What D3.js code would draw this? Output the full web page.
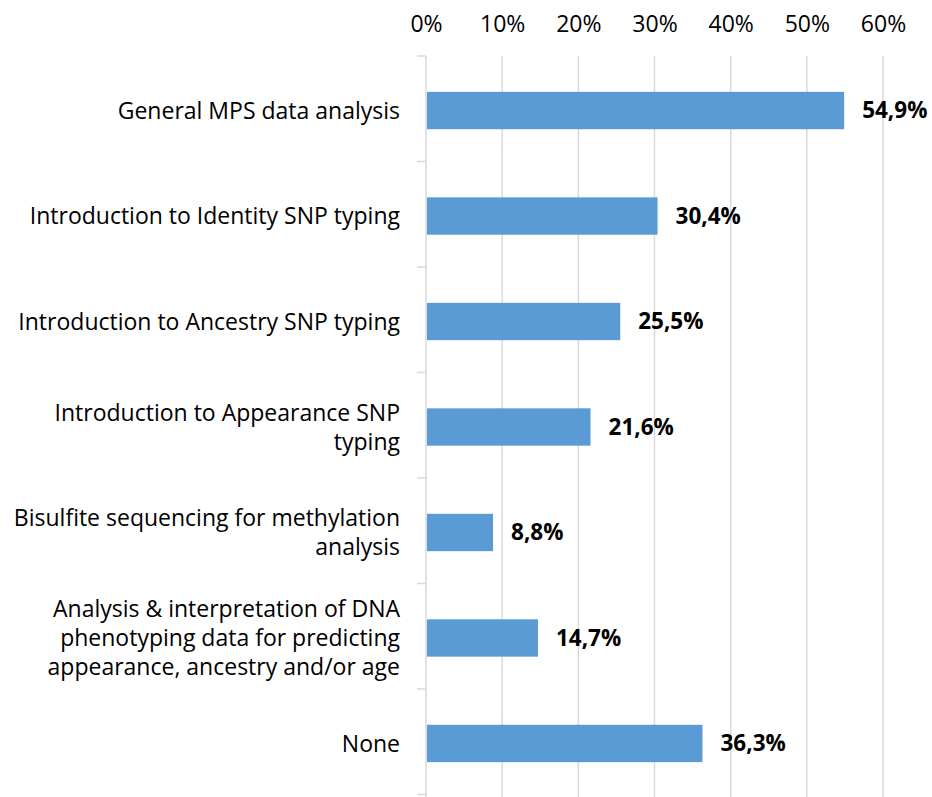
<!DOCTYPE html>
<html>
<head>
<meta charset="utf-8">
<script src="https://cdn.jsdelivr.net/npm/d3@7"></script>
<style>
  body { margin: 0; background: #ffffff; }
  svg { display: block; font-family: "Open Sans", Lato, sans-serif; }
</style>
</head>
<body>
<div id="chart"></div>
<script>
// Kategorije (redovi), prijelom reda s "\n"
const categories = [
    "General MPS data analysis",
    "Introduction to Identity SNP typing",
    "Introduction to Ancestry SNP typing",
    "Introduction to Appearance SNP\ntyping",
    "Bisulfite sequencing for methylation\nanalysis",
    "Analysis & interpretation of DNA\nphenotyping data for predicting\nappearance, ancestry and/or age",
    "None"
];

// Postoci
const values = [54.9, 30.4, 25.5, 21.6, 8.8, 14.7, 36.3];

// Oznake osi
const tickValues = [0, 10, 20, 30, 40, 50, 60];

const W = 932, H = 797;
const margin = { top: 56, right: 49, bottom: 0, left: 426 };
const width  = W - margin.left - margin.right;
const height = H - margin.top - margin.bottom + 1;

const svg = d3.select("#chart")
    .append("svg")
    .attr("width", W)
    .attr("height", H);

const g = svg.append("g")
    .attr("transform", `translate(${margin.left},${margin.top})`);

// Skale
const x = d3.scaleLinear()
    .domain([0, 60])
    .range([0, width]);

const y = d3.scaleBand()
    .domain(categories)
    .range([0, height])
    .paddingInner(0.646)
    .paddingOuter(0.34);

// Mreža
g.selectAll(".grid")
    .data(tickValues.slice(1))
    .enter()
    .append("line")
    .attr("class", "grid")
    .attr("x1", d => x(d))
    .attr("x2", d => x(d))
    .attr("y1", 0)
    .attr("y2", height)
    .style("stroke", "#d9d9d9")
    .style("stroke-width", 1.5);

// Gornja os (samo tekst)
const xAxis = g.append("g")
    .call(d3.axisTop(x).tickValues(tickValues).tickFormat(d => d + "%").tickSize(0).tickPadding(24));
xAxis.select(".domain").remove();
xAxis.selectAll("text")
    .style("font-family", "'Open Sans', Lato, sans-serif")
    .style("font-size", "23px")
    .style("fill", "#000");

// Lijeva os s crticama između kategorija
const step = y.step();
const boundaries = d3.range(categories.length + 1).map(i => i * step);
g.append("line")
    .attr("x1", 0).attr("x2", 0)
    .attr("y1", 0).attr("y2", height)
    .style("stroke", "#d9d9d9")
    .style("stroke-width", 1.5);
g.selectAll(".ytick")
    .data(boundaries)
    .enter()
    .append("line")
    .attr("class", "ytick")
    .attr("x1", -9).attr("x2", 0)
    .attr("y1", d => d).attr("y2", d => d)
    .style("stroke", "#d9d9d9")
    .style("stroke-width", 1.5);

// Stupci
g.selectAll(".bar")
    .data(values)
    .enter()
    .append("rect")
    .attr("class", "bar")
    .attr("x", 1)
    .attr("y", (d, i) => y(categories[i]))
    .attr("width", d => x(d) - 1)
    .attr("height", y.bandwidth())
    .style("fill", "#5b9bd5");

// Vrijednosti
g.selectAll(".bar-label")
    .data(values)
    .enter()
    .append("text")
    .attr("class", "bar-label")
    .attr("x", d => x(d) + 18)
    .attr("y", (d, i) => y(categories[i]) + y.bandwidth() / 2)
    .attr("dy", "0.35em")
    .style("font-size", "22.5px")
    .style("font-weight", "bold")
    .style("fill", "#000")
    .text(d => d.toFixed(1).replace(".", ",") + "%");

// Nazivi kategorija
const lineH = 29;
const labels = g.selectAll(".cat-label")
    .data(categories)
    .enter()
    .append("text")
    .attr("class", "cat-label")
    .attr("text-anchor", "end")
    .style("font-size", "23px")
    .style("fill", "#000");

labels.each(function(d) {
    const lines = d.split("\n");
    const cy = y(d) + y.bandwidth() / 2;
    const t = d3.select(this);
    lines.forEach((ln, k) => {
        t.append("tspan")
            .attr("x", -26)
            .attr("y", cy + (k - (lines.length - 1) / 2) * lineH)
            .attr("dy", "0.35em")
            .text(ln);
    });
});
</script>
</body>
</html>
